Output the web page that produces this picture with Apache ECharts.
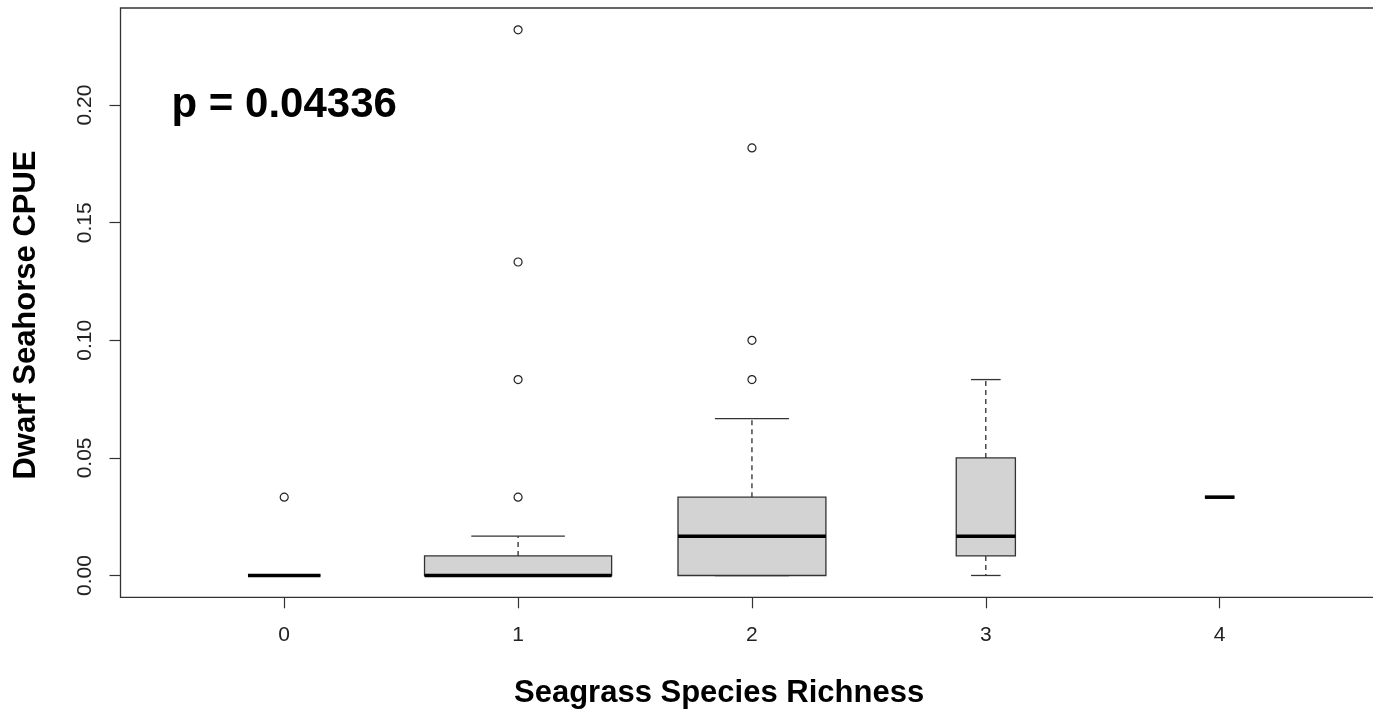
<!DOCTYPE html>
<html>
<head>
<meta charset="utf-8">
<title>Dwarf Seahorse CPUE by Seagrass Species Richness</title>
<script src="https://cdn.jsdelivr.net/npm/echarts@6/dist/echarts.min.js"></script>
<style>
  html, body { margin: 0; padding: 0; background: #fff; overflow: hidden; }
  /* the plot frame runs slightly past the right edge of the window */
  #chart { width: 1390px; height: 714px; }
</style>
</head>
<body>
<div id="chart"></div>
<script>
// Seagrass species richness groups (x positions of the boxes)
const richness = [0, 1, 2, 3, 4];
// Five-number summaries per group
const lowerWhisker = [0, 0, 0, 0, 0.0333];
const lowerHinge   = [0, 0, 0, 0.0083, 0.0333];
const medians      = [0, 0, 0.0167, 0.0167, 0.0333];
const upperHinge   = [0, 0.0083, 0.0333, 0.05, 0.0333];
const upperWhisker = [0, 0.0167, 0.0667, 0.0833, 0.0333];
// Number of samples per group (box widths scale with sqrt(n))
const sampleCounts = [6, 40, 25, 4, 1];
// Points beyond the whiskers
const outlierGroup = [0, 1, 1, 1, 1, 2, 2, 2];
const outlierValue = [0.0333, 0.0333, 0.0833, 0.1333, 0.232, 0.0833, 0.1, 0.1818];
// Tick labels
const xTicks = [0, 1, 2, 3, 4];
const yTicks = [0, 0.05, 0.10, 0.15, 0.20];
// Kruskal-Wallis annotation
const pLabel = 'p = 0.04336';
const pAnchor = [0, 0.2];

const maxCount = Math.max(...sampleCounts);
const boxData = richness.map((x, i) => [
  x, lowerWhisker[i], lowerHinge[i], medians[i], upperHinge[i], upperWhisker[i], sampleCounts[i]
]);
const outlierData = outlierGroup.map((g, i) => [g, outlierValue[i]]);

const LINE = '#333';
const WHISKER = '#1a1a1a';
const FONT = '"Liberation Sans", Arial, sans-serif';

function renderBox(params, api) {
  const x = api.value(0);
  const lo = api.value(1), q1 = api.value(2), med = api.value(3), q3 = api.value(4), hi = api.value(5);
  const half = 0.4 * Math.sqrt(api.value(6) / maxCount);
  const staple = half / 2;
  const pLeftTop = api.coord([x - half, q3]);
  const pRightBottom = api.coord([x + half, q1]);
  const c = api.coord([x, med]);
  const yLo = api.coord([x, lo])[1];
  const yQ1 = pRightBottom[1];
  const yQ3 = pLeftTop[1];
  const yHi = api.coord([x, hi])[1];
  const sL = api.coord([x - staple, 0])[0];
  const sR = api.coord([x + staple, 0])[0];
  const children = [];
  // whiskers (dashed) and staples
  children.push({ type: 'line', shape: { x1: c[0], y1: yQ3, x2: c[0], y2: yHi },
    style: { stroke: WHISKER, lineWidth: 1.2, lineDash: [5, 4] } });
  children.push({ type: 'line', shape: { x1: c[0], y1: yQ1, x2: c[0], y2: yLo },
    style: { stroke: WHISKER, lineWidth: 1.2, lineDash: [5, 4] } });
  children.push({ type: 'line', shape: { x1: sL, y1: yHi, x2: sR, y2: yHi },
    style: { stroke: LINE, lineWidth: 1.3 } });
  children.push({ type: 'line', shape: { x1: sL, y1: yLo, x2: sR, y2: yLo },
    style: { stroke: LINE, lineWidth: 1.3 } });
  // box
  children.push({ type: 'rect', shape: {
      x: pLeftTop[0], y: yQ3, width: pRightBottom[0] - pLeftTop[0], height: yQ1 - yQ3 },
    style: { fill: '#d3d3d3', stroke: LINE, lineWidth: 1.3 } });
  // median
  children.push({ type: 'line', shape: { x1: pLeftTop[0], y1: c[1], x2: pRightBottom[0], y2: c[1] },
    style: { stroke: '#000', lineWidth: 3.6 } });
  return { type: 'group', children };
}

const chart = echarts.init(document.getElementById('chart'), null, { renderer: 'canvas' });
chart.setOption({
  animation: false,
  backgroundColor: '#fff',
  grid: {
    left: 120.5, top: 8, right: 6.6, height: 589.3,
    show: true, borderColor: '#333', borderWidth: 1.3, backgroundColor: 'transparent'
  },
  xAxis: {
    type: 'value', min: -0.7, max: 4.7,
    axisLine: { show: false, onZero: false },
    splitLine: { show: false },
    axisTick: { show: true, customValues: xTicks, length: 11, lineStyle: { color: '#333', width: 1.2 } },
    axisLabel: { customValues: xTicks, fontSize: 21, color: '#222', fontFamily: FONT, margin: 27 }
  },
  yAxis: {
    type: 'value', min: -0.00928, max: 0.2413,
    axisLine: { show: false, onZero: false },
    splitLine: { show: false },
    axisTick: { show: true, customValues: yTicks, length: 11, lineStyle: { color: '#333', width: 1.2 } },
    axisLabel: {
      customValues: yTicks, rotate: 90, fontSize: 21, color: '#222', fontFamily: FONT, margin: 25,
      formatter: v => v.toFixed(2)
    }
  },
  graphic: [
    { type: 'text', left: 514, top: 678,
      style: { text: 'Seagrass Species Richness', font: 'bold 31px ' + FONT, fill: '#000' } },
    { type: 'text', x: 26, y: 315, rotation: Math.PI / 2,
      style: { text: 'Dwarf Seahorse CPUE', font: 'bold 31px ' + FONT, fill: '#000',
        align: 'center', verticalAlign: 'middle' } }
  ],
  series: [
    { type: 'custom', renderItem: renderBox, data: boxData, z: 2,
      encode: { x: 0, y: [1, 5] } },
    { type: 'scatter', data: outlierData, symbol: 'circle', symbolSize: 8, z: 3,
      itemStyle: { color: '#fff', borderColor: '#222', borderWidth: 1.2, opacity: 1 } },
    { type: 'scatter', data: [pAnchor], symbolSize: 0, z: 4,
      itemStyle: { opacity: 1 },
      label: { show: true, position: 'inside', formatter: pLabel,
        fontSize: 42, fontWeight: 'bold', fontFamily: FONT, color: '#000',
        textBorderWidth: 0, opacity: 1 } }
  ]
});
</script>
</body>
</html>
